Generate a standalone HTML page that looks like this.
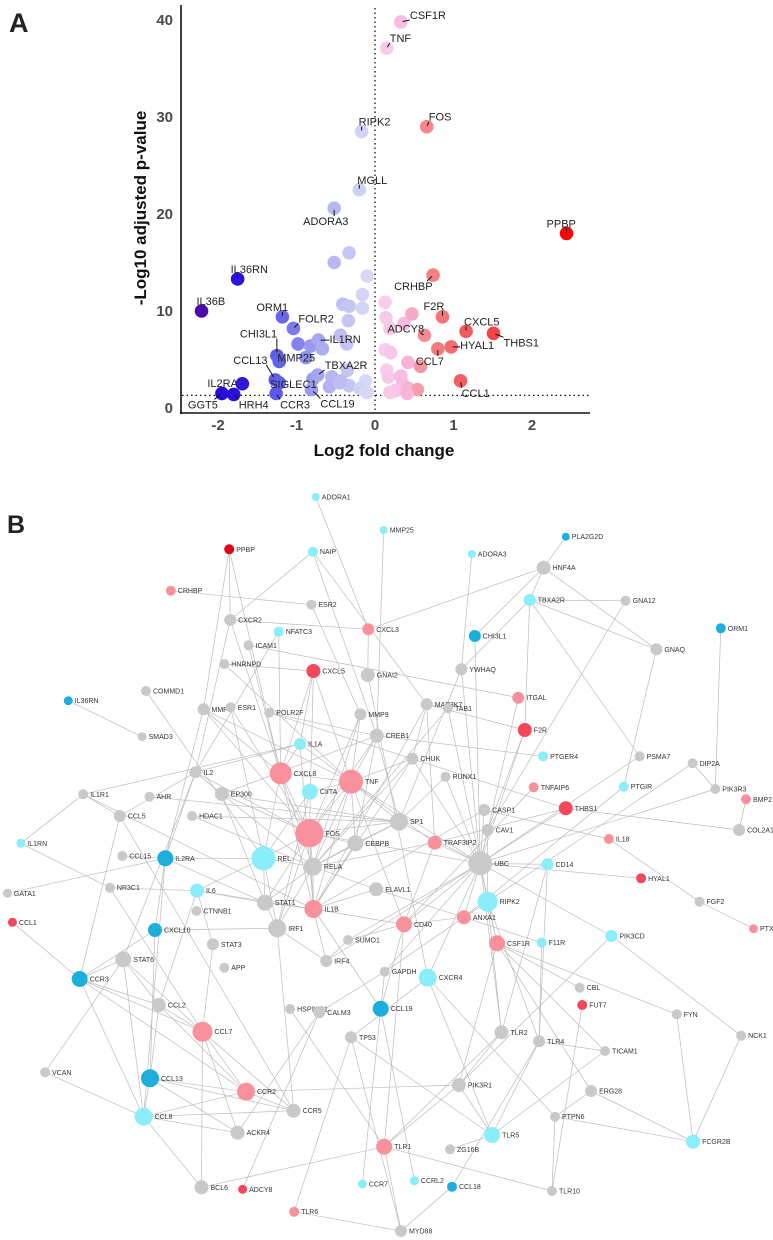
<!DOCTYPE html>
<html><head><meta charset="utf-8"><style>
html,body{margin:0;padding:0;background:#fff;}
svg{display:block;font-family:"Liberation Sans",sans-serif;}
</style></head><body>
<svg id="fig" width="773" height="1240" viewBox="0 0 773 1240" xmlns="http://www.w3.org/2000/svg">
<text x="9" y="32" font-size="27" font-weight="bold" fill="#222">A</text>
<text x="7" y="533" font-size="25" font-weight="bold" fill="#222">B</text>
<g id="volcano"></g>
<g id="network"></g>
</svg>
<script>
// ---------- Volcano data ----------
const genes = ["CSF1R","TNF","RIPK2","FOS","MGLL","ADORA3","PPBP","","","","","","","","","","","","","","","","","","","","","IL36RN","IL36B","ORM1","FOLR2","","","IL1RN","","CHI3L1","MMP25","","CCL13","SIGLEC1","CCR3","IL2RA","GGT5","HRH4","TBXA2R","CCL19","CRHBP","F2R","CXCL5","THBS1","ADCY8","HYAL1","CCL7","","","CCL1","","","","","","","","","","","","","","","",""];
const logFC = [0.33,0.15,-0.17,0.66,-0.2,-0.52,2.44,-0.33,-0.52,-0.1,-0.16,-0.41,-0.33,-0.16,-0.34,-0.44,-0.36,-0.35,-0.55,-0.43,-0.33,-0.12,-0.19,-0.1,-0.58,-0.79,-0.45,-1.75,-2.21,-1.18,-1.04,-0.98,-0.82,-0.72,-0.67,-1.25,-1.22,-0.88,-1.27,-1.22,-1.26,-1.69,-1.95,-1.8,-0.73,-0.81,0.74,0.86,1.16,1.51,0.63,0.97,0.8,0.58,0.42,1.09,0.13,0.14,0.19,0.37,0.47,0.13,0.2,0.15,0.17,0.33,0.35,0.26,0.43,0.54,0.41,0.19];
const negLogP = [39.8,37.1,28.5,29.0,22.5,20.6,18.0,16.0,15.0,13.6,11.7,10.7,10.5,10.3,9.0,7.5,6.6,3.9,3.2,2.8,2.3,2.8,2.0,1.6,2.2,3.0,2.6,13.3,10.0,9.4,8.2,6.6,6.4,7.0,6.1,5.4,4.8,5.2,2.9,2.6,1.5,2.5,1.5,1.4,3.4,1.9,13.7,9.4,7.9,7.7,7.5,6.3,6.1,4.3,4.7,2.8,10.9,9.3,8.2,8.7,9.7,6.0,5.7,3.9,3.2,3.3,2.5,1.8,2.0,1.9,1.5,1.6];
const xTicks = [-2,-1,0,1,2];
const yTicks = [0,10,20,30,40];
const threshold = 1.3;
// label layout offsets (pixels, not data)
const labelOffsets = {CSF1R:[9,-7],TNF:[3,-10],RIPK2:[-3,-10],FOS:[2,-10],MGLL:[-2,-10],ADORA3:[-31,13],PPBP:[-20,-10],IL36RN:[-7,-10],IL36B:[-5,-10],ORM1:[-26,-10],FOLR2:[5,-10],CHI3L1:[-37,-22],MMP25:[-2,-4],IL1RN:[11,-1],CCL13:[-42,-20],SIGLEC1:[-9,1],TBXA2R:[7,-10],IL2RA:[-35,-1],GGT5:[-34,11],HRH4:[5,10],CCR3:[4,11],CCL19:[9,14],CRHBP:[-39,11],F2R:[-19,-11],CXCL5:[-2,-10],THBS1:[10,9],ADCY8:[-37,-7],HYAL1:[9,-2],CCL7:[-22,12],CCL1:[1,12]};

const NS="http://www.w3.org/2000/svg";
function mk(tag,attrs,parent){const e=document.createElementNS(NS,tag);for(const k in attrs)e.setAttribute(k,attrs[k]);parent.appendChild(e);return e;}
const X0=375, XS=78.5, Y0=408, YS=9.7;
function xScale(v){return X0+XS*v;}
function yScale(v){return Y0-YS*v;}
function lerp(a,b,t){return a+(b-a)*t;}
function mixColor(stops,v){
  if(v<=stops[0][0]){const a=stops[0][1];return `rgb(${a[0]},${a[1]},${a[2]})`;}
  for(let i=1;i<stops.length;i++){if(v<=stops[i][0]){const t=(v-stops[i-1][0])/(stops[i][0]-stops[i-1][0]);const a=stops[i-1][1],b=stops[i][1];return `rgb(${Math.round(lerp(a[0],b[0],t))},${Math.round(lerp(a[1],b[1],t))},${Math.round(lerp(a[2],b[2],t))})`;}}
  const l=stops[stops.length-1][1];return `rgb(${l[0]},${l[1]},${l[2]})`;
}
const cstops=[[-2.25,[84,10,160]],[-2.05,[40,10,215]],[-1.7,[45,20,220]],[-1.2,[100,100,235]],[-0.7,[170,170,240]],[-0.05,[220,220,247]],[0.05,[248,210,240]],[0.4,[246,184,220]],[0.65,[245,135,140]],[1.1,[240,95,100]],[2.5,[255,0,0]]];
function colorOf(v){return mixColor(cstops,v);}

const V=document.getElementById('volcano');
let e;
e=mk('line',{x1:181,y1:5,x2:181,y2:414,stroke:'#111','stroke-width':1.6},V);


e=mk('line',{x1:180,y1:413,x2:590,y2:413,stroke:'#111','stroke-width':1.6},V);


xTicks.forEach(t=>{
  e=mk('text',{x:xScale(t),y:430,'text-anchor':'middle','font-size':15,'font-weight':'bold',fill:'#4a4a4a'},V);e.textContent=t;
  
  
});
yTicks.forEach(t=>{
  e=mk('text',{x:173,y:yScale(t)+5,'text-anchor':'end','font-size':15,'font-weight':'bold',fill:'#4a4a4a'},V);e.textContent=t;
  
  
});
e=mk('text',{x:384,y:456,'text-anchor':'middle','font-size':17,'font-weight':'bold',fill:'#111'},V);e.textContent='Log2 fold change';


e=mk('text',{x:0,y:0,'text-anchor':'middle','font-size':17,'font-weight':'bold',fill:'#111',transform:'translate(146,208) rotate(-90)'},V);e.textContent='-Log10 adjusted p-value';


e=mk('line',{x1:xScale(0),y1:8,x2:xScale(0),y2:412,stroke:'#111','stroke-width':1.3,'stroke-dasharray':'1.5,3'},V);


e=mk('line',{x1:182,y1:yScale(threshold),x2:590,y2:yScale(threshold),stroke:'#111','stroke-width':1.3,'stroke-dasharray':'1.5,3'},V);


logFC.forEach((v,i)=>{
  e=mk('circle',{cx:xScale(v),cy:yScale(negLogP[i]),r:6.8,fill:colorOf(v)},V);
  
  
});
logFC.forEach((v,i)=>{
  const g=genes[i]; if(!g||!labelOffsets[g])return;
  const px=xScale(v),py=yScale(negLogP[i]);
  const lx=px+labelOffsets[g][0],ly=py+labelOffsets[g][1];
  const w=g.length*6.6;
  const ax=Math.min(Math.max(px,lx),lx+w), ay=Math.min(Math.max(py,ly-5),ly+5);
  e=mk('line',{x1:ax,y1:ay,x2:lerp(ax,px,0.8),y2:lerp(ay,py,0.8),stroke:'#111','stroke-width':1},V);
  
  
  e=mk('text',{x:lx,y:ly+4,'font-size':11,fill:'#222'},V);e.textContent=g;
  
  
});

// ---------- Network ----------
const nodes=[
["ADORA1",638,-9,2,"c",4],["MMP25",775,90,2,"c",4],["PLA2G2D",1143,110,2,"b",4],["PPBP",463,148,2,"R",5],["NAIP",632,155,2,"c",5],["ADORA3",953,162,2,"c",4],["HNF4A",1098,203,2,"g",7],["CRHBP",345,272,2,"p",5],["ESR2",629,314,2,"g",5],["TBXA2R",1070,300,2,"c",6],["GNA12",1264,302,2,"g",5],["CXCR2",465,360,2,"g",6],["CXCL3",744,388,2,"p",6],["NFATC3",563,395,2,"c",5],["ORM1",1456,385,2,"b",5],["CHI3L1",959,408,2,"b",6],["ICAM1",502,436,2,"g",5],["GNAQ",1326,448,2,"g",6],["HNRNPD",453,492,2,"g",5],["CXCL5",633,513,2,"r",7],["GNAI2",743,525,2,"g",7],["YWHAQ",932,508,2,"g",6],["COMMD1",295,573,2,"g",5],["IL36RN",138,602,2,"b",4.5],["ITGAL",1047,593,2,"p",6],["MMP1",411,628,2,"g",6],["ESR1",466,622,2,"g",5],["POLR2F",544,638,2,"g",5],["MMP9",728,643,2,"g",6],["MAP3K7",862,613,2,"g",6],["TAB1",905,625,2,"g",5],["F2R",1060,690,2,"r",7],["SMAD3",287,710,2,"g",4.5],["CREB1",761,707,2,"g",7],["IL1A",606,732,2,"c",6],["PTGER4",1097,769,2,"c",5],["PSMA7",1292,769,2,"g",5],["CHUK",833,776,2,"g",6],["DIP2A",1399,790,2,"g",5],["IL2",395,817,2,"g",6],["CXCL8",567,820,2,"p",11],["TNF",709,845,2,"p",12],["RUNX1",900,830,2,"g",5],["IL1R1",168,883,2,"g",5],["AHR",302,890,2,"g",5],["EP300",448,882,2,"g",7],["CIITA",626,875,2,"c",8],["TNFAIP6",1078,862,2,"p",5],["PTGIR",1260,860,2,"c",5],["PIK3R3",1445,867,2,"g",5],["BMP2",1507,898,2,"p",5],["THBS1",1143,925,2,"r",7],["CASP1",978,930,2,"g",6],["CCL5",242,948,2,"g",6],["HDAC1",388,948,2,"g",5],["SP1",806,965,2,"g",9],["CAV1",985,990,2,"g",6],["COL2A1",1493,990,2,"g",6],["IL1RN",42,1030,2,"c",4.5],["IL18",1230,1017,2,"p",5],["FOS",625,1000,2,"p",14],["CEBPB",718,1030,2,"g",8],["TRAF3IP2",878,1028,2,"p",7],["CCL15",247,1068,2,"g",5],["IL2RA",334,1075,2,"b",8],["REL",532,1075,2,"c",12],["RELA",632,1100,2,"g",9],["UBC",970,1090,2,"g",12],["CD14",1106,1093,2,"c",6],
["HYAL1",1295,55,3,"r",5],["GATA1",15,100,3,"g",4.5],["NR3C1",222,83,3,"g",5],["IL6",398,92,3,"c",7],["ELAVL1",760,88,3,"g",7],["STAT1",535,128,3,"g",8],["IL1B",633,147,3,"p",9],["RIPK2",985,125,3,"c",10],["FGF2",1413,125,3,"g",5],["CTNNB1",397,153,3,"g",5],["ANXA1",937,172,3,"p",7],["CD40",816,193,3,"p",8],["CCL1",25,187,3,"r",4.5],["CXCL10",313,210,3,"b",7],["IRF1",560,205,3,"g",9],["SUMO1",703,240,3,"g",5],["PTX3",1522,206,3,"p",4.5],["PIK3CD",1235,228,3,"c",6],["CSF1R",1004,250,3,"p",8],["F11R",1094,248,3,"c",5],["STAT3",430,253,3,"g",6],["STAT6",249,298,3,"g",8],["IRF4",659,303,3,"g",6],["APP",453,323,3,"g",5],["GAPDH",777,335,3,"g",5],["CXCR4",864,353,3,"c",9],["CCR3",161,357,3,"b",8],["CBL",1171,383,3,"g",5],["CCL2",321,435,3,"g",7],["FUT7",1176,435,3,"r",5],["HSP90B1",586,447,3,"g",5],["CALM3",645,457,3,"g",6],["CCL19",769,446,3,"b",8],["FYN",1367,463,3,"g",5],["CCL7",409,515,3,"p",10],["TP53",709,532,3,"g",6],["TLR2",1013,517,3,"g",7],["TLR4",1089,544,3,"g",6],["NCK1",1497,527,3,"g",5],["TICAM1",1222,573,3,"g",5],["VCAN",91,637,3,"g",5],["CCL13",303,655,3,"b",9],["PIK3R1",927,675,3,"g",7],["CCR2",497,695,3,"p",9],["ERG28",1194,693,3,"g",6],["CCR5",593,752,3,"g",7],["PTPN6",1121,770,3,"g",5],["CCL8",290,770,3,"c",9],["ACKR4",480,818,3,"g",7],["TLR5",994,825,3,"c",8],["FCGR2B",1400,845,3,"c",7],["TLR1",776,860,3,"p",8],["ZG16B",909,868,3,"g",5],["BCL6",407,982,3,"g",7],["ADCY8",490,988,3,"r",4.5],["CCR7",732,972,3,"c",4.5],["CCRL2",837,962,3,"c",4.5],["CCL18",913,980,3,"b",5],["TLR10",1115,993,3,"g",5],["TLR6",594,1055,3,"p",5],["MYD88",810,1113,3,"g",6]
];
const edges=("PPBP-CXCR2 PPBP-MMP1 PPBP-CXCL8 NAIP-CXCR2 NAIP-MAP3K7 NAIP-CREB1 ADORA1-CXCL3 MMP25-CREB1 PLA2G2D-HNF4A ADORA3-YWHAQ HNF4A-CXCL3 HNF4A-GNAQ HNF4A-TBXA2R HNF4A-CHI3L1 CRHBP-ESR2 ESR2-MMP9 TBXA2R-GNA12 TBXA2R-F2R TBXA2R-PSMA7 TBXA2R-YWHAQ GNA12-CAV1 GNAQ-PTGIR GNAQ-TBXA2R ORM1-PIK3R3 CXCR2-CXCL3 CXCR2-IL2 CXCR2-CXCL8 NFATC3-IL2 NFATC3-CXCL8 ICAM1-ITGAL ICAM1-CXCL8 HNRNPD-CXCL5 HNRNPD-TNF CXCL5-CXCL8 CXCL5-TNF CXCL5-FOS CXCL5-IL1A GNAI2-CXCL3 GNAI2-CXCR4 CHI3L1-UBC YWHAQ-SP1 YWHAQ-UBC COMMD1-REL IL36RN-SMAD3 ITGAL-UBC MMP1-CXCL8 MMP1-FOS MMP1-TNF MMP1-IL2RA ESR1-FOS ESR1-REL POLR2F-CREB1 POLR2F-THBS1 MMP9-TNF MMP9-FOS MMP9-RELA MAP3K7-TAB1 MAP3K7-CHUK MAP3K7-TRAF3IP2 MAP3K7-IL1B MAP3K7-F2R TAB1-UBC TAB1-RELA F2R-CAV1 F2R-UBC CREB1-FOS CREB1-PTGER4 CREB1-SP1 CREB1-TNF CREB1-CEBPB CREB1-EP300 IL1A-CXCL8 IL1A-IL1R1 IL1A-TNF IL1A-IL1B PSMA7-UBC CHUK-RELA CHUK-TNF CHUK-UBC CHUK-IL1B DIP2A-PIK3R3 DIP2A-RIPK2 IL2-IL2RA IL2-FOS IL2-STAT6 IL2-EP300 IL2-IL1A CXCL8-TNF CXCL8-FOS CXCL8-RELA CXCL8-IL1B CXCL8-REL TNF-FOS TNF-RELA TNF-SP1 TNF-IL1B TNF-CEBPB TNF-UBC TNF-CD40 TNF-TRAF3IP2 RUNX1-UBC RUNX1-SP1 IL1R1-IL1RN IL1R1-IL1B AHR-SP1 EP300-FOS EP300-RELA EP300-STAT1 EP300-SP1 CIITA-TNF CIITA-IRF1 CIITA-REL TNFAIP6-CD40 PTGIR-ANXA1 PIK3R3-UBC BMP2-COL2A1 THBS1-UBC THBS1-COL2A1 THBS1-TRAF3IP2 CASP1-IL18 CASP1-IL1B CASP1-UBC CCL5-CCR3 CCL5-IL1R1 CCL5-CCR5 CCL5-IL2 HDAC1-SP1 HDAC1-RELA SP1-FOS SP1-RELA SP1-UBC SP1-CEBPB CAV1-UBC CAV1-RIPK2 IL1RN-NR3C1 IL18-FGF2 FOS-RELA FOS-REL FOS-IL1B FOS-STAT1 FOS-IRF1 FOS-UBC FOS-CEBPB CEBPB-IL1B CEBPB-RELA TRAF3IP2-UBC TRAF3IP2-CD40 TRAF3IP2-RELA CCL15-IL2RA IL2RA-STAT1 IL2RA-CXCL10 IL2RA-REL IL2RA-CCL8 REL-RELA REL-STAT1 REL-IL6 REL-IRF1 RELA-STAT1 RELA-IL1B RELA-ELAVL1 RELA-IRF1 UBC-RIPK2 UBC-ANXA1 UBC-CD14 UBC-CXCR4 UBC-TLR2 UBC-CSF1R UBC-HYAL1 UBC-CD40 UBC-SUMO1 UBC-IRF4 CD14-TLR4 CD14-TLR2 GATA1-IL2RA NR3C1-IL6 NR3C1-CCL7 IL6-STAT3 IL6-STAT1 IL6-IL1B IL6-CCL2 ELAVL1-ANXA1 ELAVL1-IL1B STAT1-IRF1 STAT1-IL1B IL1B-CD40 IL1B-IRF4 IL1B-CCL19 RIPK2-ANXA1 RIPK2-CSF1R RIPK2-TLR2 RIPK2-TLR4 FGF2-PTX3 ANXA1-CD40 ANXA1-GAPDH ANXA1-F11R CD40-CCL19 CD40-TLR1 CCL1-CCR3 CXCL10-IRF1 CXCL10-CCR3 CXCL10-CCL13 IRF1-IRF4 IRF1-CCR5 SUMO1-CD40 SUMO1-IRF4 PIK3CD-NCK1 PIK3CD-PIK3R1 PIK3CD-UBC CSF1R-CBL CSF1R-PIK3R1 CSF1R-TICAM1 CSF1R-FYN F11R-TLR4 STAT3-CCL7 STAT6-CCR3 STAT6-CCL2 STAT6-CCL8 STAT6-VCAN STAT6-CCL7 GAPDH-CALM3 GAPDH-UBC CXCR4-TLR5 CXCR4-PTPN6 CXCR4-TP53 CCR3-CCL7 CCR3-CCL8 CCR3-CCL2 CCR3-CCR2 CCL2-CCL13 CCL2-CCR2 CCL2-CCL7 FUT7-TLR10 HSP90B1-TLR1 CALM3-ACKR4 CCL19-CCR7 CCL19-CCRL2 CCL19-GAPDH FYN-FCGR2B CCL7-CCR2 CCL7-BCL6 CCL7-ACKR4 CCL7-CCR5 TP53-TLR5 TP53-TLR6 TP53-MYD88 TLR2-TLR1 TLR2-PIK3R1 TLR4-TLR5 TLR4-TICAM1 NCK1-FCGR2B TICAM1-TLR5 VCAN-CCL8 CCL13-CCR2 CCL13-CCL8 CCL13-CCR5 CCL13-ACKR4 PIK3R1-CCR2 PIK3R1-TLR5 PIK3R1-TLR1 CCR2-CCR5 CCR2-CCL8 ERG28-PTPN6 ERG28-FCGR2B ERG28-CSF1R CCR5-CCL8 PTPN6-FCGR2B PTPN6-TLR10 CCL8-ACKR4 CCL8-BCL6 TLR1-BCL6 TLR1-TLR10 TLR1-MYD88 ZG16B-TLR5 ADCY8-CALM3 CCL18-TLR4 CCL18-MYD88 TLR6-MYD88").split(" ");
const palette={g:"#c9c9c9",c:"#8aeef9",b:"#1eaedc",p:"#f8919c",r:"#f4475c",R:"#e00419"};
const N=document.getElementById('network');
const pos={};
nodes.forEach(n=>{pos[n[0]]=[n[1]/2.02,(n[3]===2?500:860)+n[2]/3,n[5]];});
const eg=mk('g',{},N);


edges.forEach(s=>{
  const [a,b]=s.split("-");if(!pos[a]||!pos[b])return;
  e=mk('line',{x1:pos[a][0].toFixed(1),y1:pos[a][1].toFixed(1),x2:pos[b][0].toFixed(1),y2:pos[b][1].toFixed(1),stroke:'#bcbcbc','stroke-width':0.7},eg);
  
  
});
nodes.forEach(n=>{
  const p=pos[n[0]];
  e=mk('circle',{cx:p[0].toFixed(1),cy:p[1].toFixed(1),r:n[5],fill:palette[n[4]]},N);
  
  
  e=mk('text',{x:(p[0]+n[5]+2).toFixed(1),y:(p[1]+2.5).toFixed(1),'font-size':7,fill:'#333'},N);e.textContent=n[0];
  
  
});
</script>
</body></html>
